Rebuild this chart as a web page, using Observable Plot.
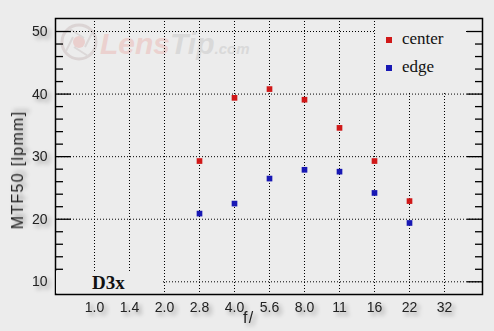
<!DOCTYPE html>
<html>
<head>
<meta charset="utf-8">
<script src="https://cdn.jsdelivr.net/npm/d3@7"></script>
<script src="https://cdn.jsdelivr.net/npm/@observablehq/plot@0.6"></script>
<style>
  html, body { margin: 0; padding: 0; background: #ececec; }
  #wrap { position: relative; width: 494px; height: 331px; overflow: hidden; background: #ececec; font-family: "Liberation Sans", Arial, sans-serif; }
  #wm { position: absolute; left: 0; top: 0; z-index: 0; }
  #chart { position: absolute; left: 0; top: 0; z-index: 1; }
  .ov { position: absolute; z-index: 2; }
  #legend { left: 376px; top: 20px; width: 90px; height: 72px; background: #ececec; font-family: "Liberation Serif", "Times New Roman", serif; font-size: 17px; color: #111; }
  #legend .sw { position: absolute; width: 6px; height: 6px; }
  #legend .lb { position: absolute; left: 26px; line-height: 1; }
  #model { left: 56px; top: 271px; width: 105px; height: 22px; background: #ececec; }
  #model span { position: absolute; left: 36px; top: 2px; font-family: "Liberation Serif", "Times New Roman", serif; font-weight: bold; font-size: 19px; color: #111; line-height: 1; }
  .title { position: absolute; z-index: 2; font-size: 16px; color: #222; letter-spacing: 1.3px; white-space: nowrap; filter: drop-shadow(3px 3px 2px rgba(0,0,0,0.35)); }
  g[aria-label$="tick label"] { filter: drop-shadow(3px 3px 2px rgba(0,0,0,0.35)); }
</style>
</head>
<body>
<div id="wrap">
  <svg id="wm" width="494" height="331">
    <g>
      <circle cx="79" cy="42" r="17" fill="none" stroke="#dbd4d4" stroke-width="3"/>
      <circle cx="79" cy="42" r="6" fill="#eacfcd"/>
      <path d="M70,29 L84,38 M92,33 L85,47 M88,56 L74,47 M66,51 L73,37" stroke="#dcd8d8" stroke-width="2" fill="none"/>
      <text x="100" y="54" font-family="Liberation Sans, Arial, sans-serif" font-weight="bold" font-style="italic" font-size="30" fill="#ebd1cf">Lens<tspan fill="#d9d9d9">Tip</tspan><tspan font-size="15" font-weight="bold" fill="#d9d9d9">.com</tspan></text>
    </g>
  </svg>
  <div id="chart"></div>
  <div id="legend" class="ov">
    <div class="sw" style="left:10px;top:17px;background:#d01818"></div>
    <div class="lb" style="top:10px">center</div>
    <div class="sw" style="left:10px;top:45px;background:#1818b4"></div>
    <div class="lb" style="top:38px">edge</div>
  </div>
  <div id="model" class="ov"><span>D3x</span></div>
  <div class="title" style="left:18px;top:170px;transform:translate(-50%,-50%) rotate(-90deg);">MTF50 [lpmm]</div>
  <div class="title" style="left:243px;top:309px;">f/</div>
</div>
<script>
const fStops = ["1.0", "1.4", "2.0", "2.8", "4.0", "5.6", "8.0", "11", "16", "22", "32"];
const measuredStops = ["2.8", "4.0", "5.6", "8.0", "11", "16", "22"];
const centerValues = [29.3, 39.4, 40.8, 39.1, 34.6, 29.3, 22.9];
const edgeValues = [20.9, 22.5, 26.5, 27.9, 27.6, 24.2, 19.4];
const yMajorTicks = [10, 20, 30, 40, 50];
const yMinorTicks = [12, 14, 16, 18, 22, 24, 26, 28, 32, 34, 36, 38, 42, 44, 46, 48];
const yDomain = [7.97, 52.08];

const centerData = measuredStops.map((f, i) => ({f, v: centerValues[i]}));
const edgeData = measuredStops.map((f, i) => ({f, v: edgeValues[i]}));

const dotted = {stroke: "#000", strokeWidth: 1, strokeDasharray: "1,2"};

const chart = Plot.plot({
  width: 494,
  height: 331,
  marginLeft: 55,
  marginRight: 12,
  marginTop: 18,
  marginBottom: 37,
  style: {background: "transparent", fontFamily: "Liberation Sans, Arial, sans-serif", fontSize: "14px", color: "#222"},
  x: {type: "point", domain: fStops, padding: 1},
  y: {domain: yDomain},
  marks: [
    Plot.ruleX(fStops, dotted),
    Plot.ruleY(yMajorTicks, dotted),
    Plot.axisY(yMajorTicks, {anchor: "left", tickSize: -16, stroke: "#000", strokeWidth: 1.3, text: null, label: null}),
    Plot.axisY(yMinorTicks, {anchor: "left", tickSize: -8, stroke: "#000", strokeWidth: 1.3, text: null, label: null}),
    Plot.axisY(yMajorTicks, {anchor: "right", tickSize: -16, stroke: "#000", strokeWidth: 1.3, text: null, label: null}),
    Plot.axisY(yMinorTicks, {anchor: "right", tickSize: -8, stroke: "#000", strokeWidth: 1.3, text: null, label: null}),
    Plot.axisY(yMajorTicks, {anchor: "left", tickSize: 0, tickPadding: 8, fontSize: 14, fill: "#222", label: null}),
    Plot.axisX(fStops, {anchor: "bottom", tickSize: 0, tickPadding: 8, fontSize: 14, fill: "#222", label: null}),
    Plot.frame({stroke: "#000", strokeWidth: 1.5}),
    Plot.dot(centerData, {x: "f", y: "v", symbol: "square", r: 3.2, fill: "#d01818", stroke: "none"}),
    Plot.dot(edgeData, {x: "f", y: "v", symbol: "square", r: 3.2, fill: "#1818b4", stroke: "none"})
  ]
});
document.getElementById("chart").appendChild(chart);
</script>
</body>
</html>
